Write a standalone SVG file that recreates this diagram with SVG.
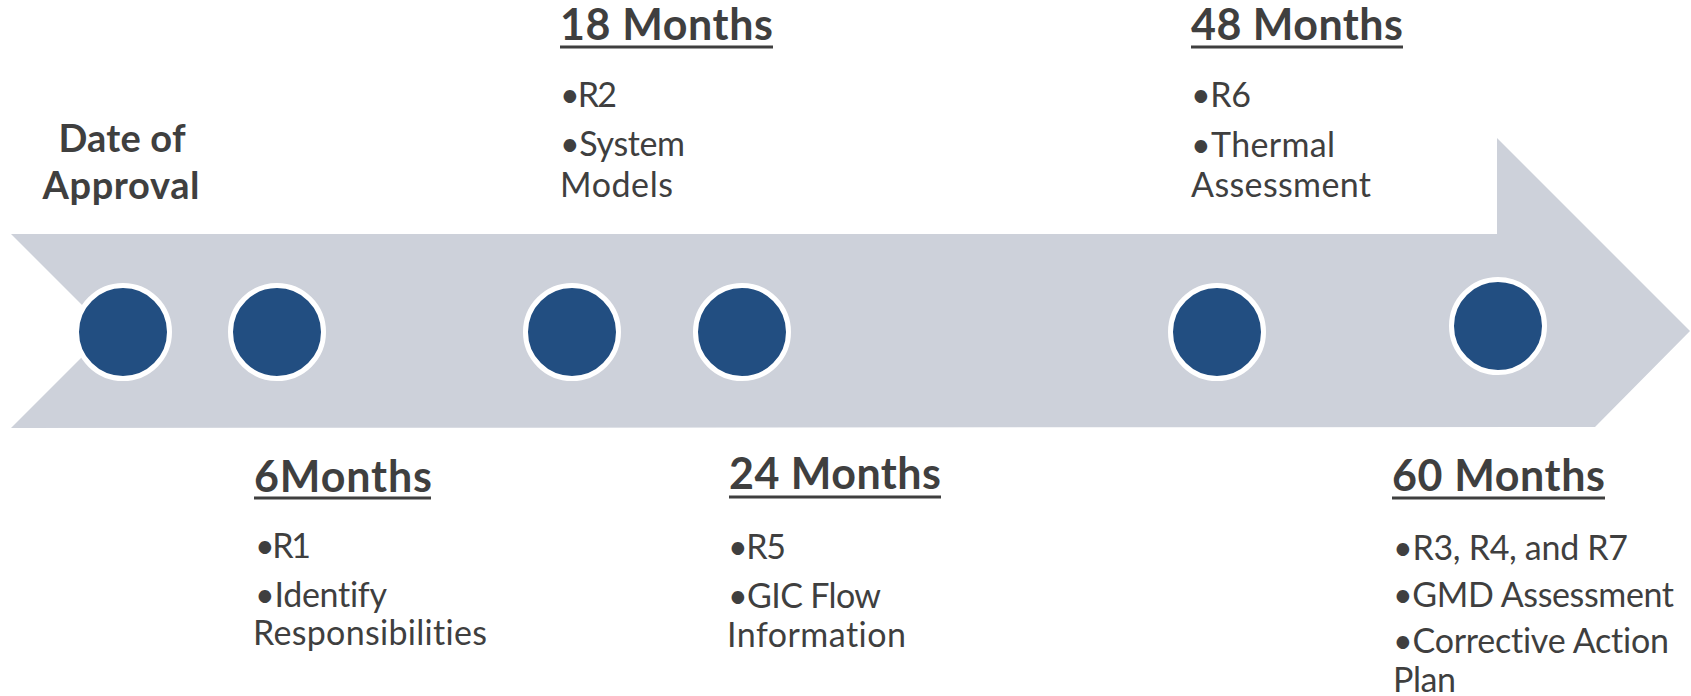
<svg xmlns="http://www.w3.org/2000/svg" width="1691" height="696" viewBox="0 0 1691 696">
<style>
text{font-variant-ligatures:none;font-feature-settings:"liga" 0,"clig" 0}
.band{fill:#CDD1DA}
.dot{fill:#224E81;stroke:#FFFFFF;stroke-width:5}
.h{font-family:Lato,"Liberation Sans",sans-serif;font-weight:700;font-size:43px;fill:#3F3F3F}
.t{font-family:Lato,"Liberation Sans",sans-serif;font-size:34px;fill:#3F3F3F}
.start{font-family:Lato,"Liberation Sans",sans-serif;font-weight:700;font-size:38px;fill:#3F3F3F;text-anchor:middle}
.ul{stroke:#3F3F3F;stroke-width:3}
</style>
<rect width="1691" height="696" fill="#FFFFFF"/>
<g id="timeline">
<polygon class="band" points="11,234 1497,234 1497,138 1690,331 1595,427 11,428 108,331"/>
</g>
<g id="connectors"/>
<g id="m-approval">
<circle class="dot" cx="123" cy="332" r="46.5"/>
<text class="start" x="122" y="152" textLength="127">Date of</text>
<text class="start" x="121" y="199" textLength="157">Approval</text>
</g>
<g id="m-6">
<circle class="dot" cx="277" cy="332" r="46.5"/>
<text class="h" x="254" y="492" textLength="178">6Months</text>
<line class="ul" x1="254" y1="498" x2="431" y2="498"/>
<text class="t" x="255" y="558" textLength="56">•R1</text>
<text class="t" x="255" y="607" textLength="132">•Identify</text>
<text class="t" x="253" y="645" textLength="234">Responsibilities</text>
</g>
<g id="m-18">
<circle class="dot" cx="572" cy="332" r="46.5"/>
<text class="h" x="560" y="40" textLength="213">18 Months</text>
<line class="ul" x1="560" y1="47" x2="773" y2="47"/>
<text class="t" x="560" y="107" textLength="57">•R2</text>
<text class="t" x="560" y="156" textLength="125">•System</text>
<text class="t" x="560" y="197" textLength="113">Models</text>
</g>
<g id="m-24">
<circle class="dot" cx="742" cy="332" r="46.5"/>
<text class="h" x="729" y="489" textLength="212">24 Months</text>
<line class="ul" x1="729" y1="497" x2="941" y2="497"/>
<text class="t" x="728" y="559" textLength="58">•R5</text>
<text class="t" x="728" y="608" textLength="153">•GIC Flow</text>
<text class="t" x="727" y="647" textLength="179">Information</text>
</g>
<g id="m-48">
<circle class="dot" cx="1217" cy="332" r="46.5"/>
<text class="h" x="1191" y="40" textLength="212">48 Months</text>
<line class="ul" x1="1191" y1="47" x2="1403" y2="47"/>
<text class="t" x="1191" y="107" textLength="60">•R6</text>
<text class="t" x="1191" y="157" textLength="144">•Thermal</text>
<text class="t" x="1191" y="197" textLength="180">Assessment</text>
</g>
<g id="m-60">
<circle class="dot" cx="1498" cy="326" r="46.5"/>
<text class="h" x="1392" y="491" textLength="213">60 Months</text>
<line class="ul" x1="1392" y1="498" x2="1605" y2="498"/>
<text class="t" x="1393" y="560" textLength="235">•R3, R4, and R7</text>
<text class="t" x="1393" y="607" textLength="281">•GMD Assessment</text>
<text class="t" x="1393" y="653" textLength="276">•Corrective Action</text>
<text class="t" x="1393" y="692" textLength="63">Plan</text>
</g>
</svg>
